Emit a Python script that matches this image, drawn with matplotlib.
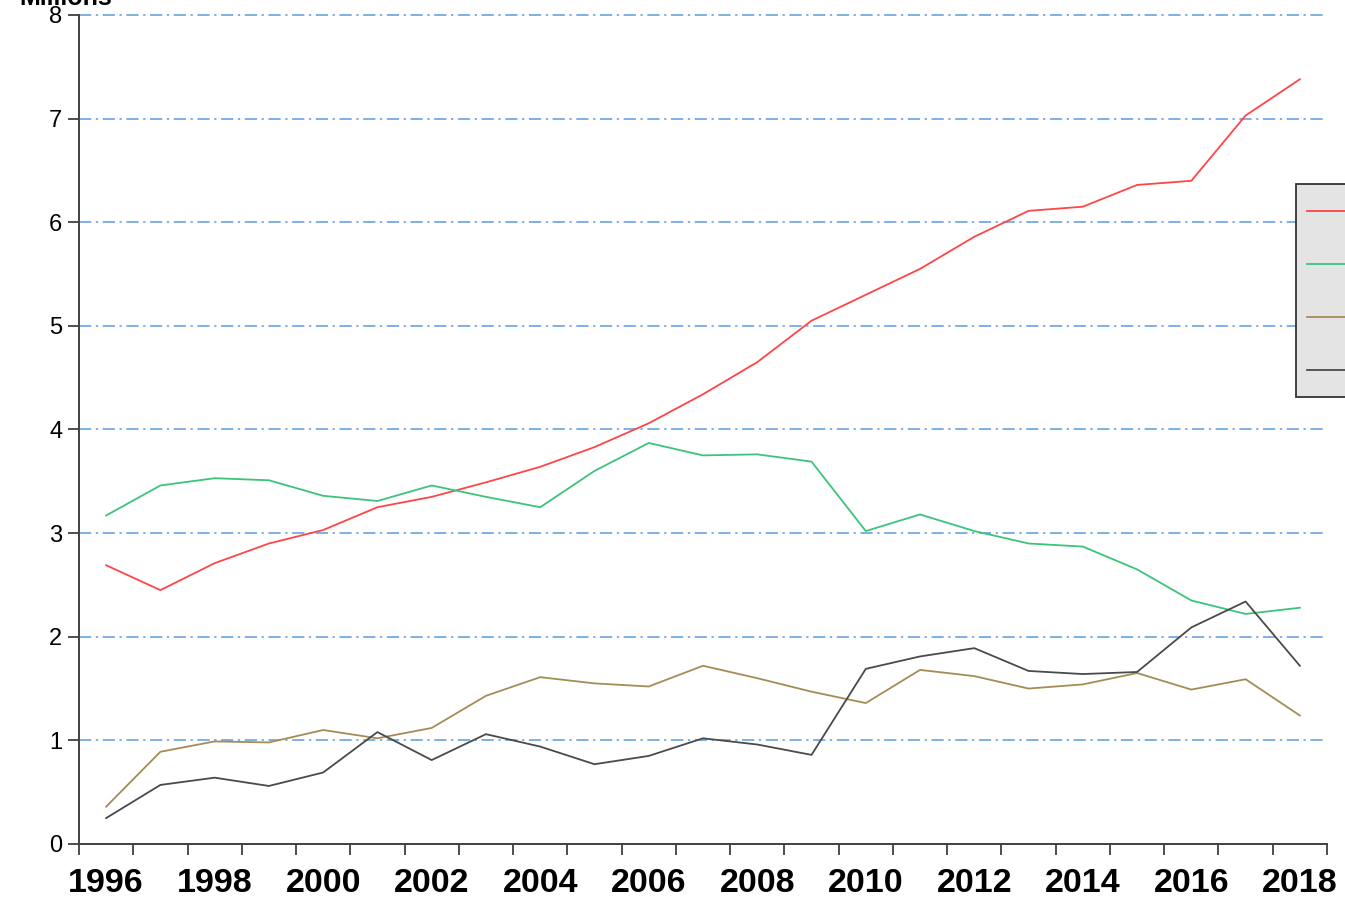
import numpy as np
import matplotlib as mpl
import matplotlib.pyplot as plt
from matplotlib.patches import Rectangle
from matplotlib.ticker import FixedLocator, NullFormatter

years = np.arange(1996, 2019)

series_red = [2.69, 2.45, 2.71, 2.90, 3.03, 3.25, 3.35, 3.49, 3.64, 3.83, 4.06, 4.34,
              4.65, 5.05, 5.30, 5.55, 5.86, 6.11, 6.15, 6.36, 6.40, 7.03, 7.38]
series_green = [3.17, 3.46, 3.53, 3.51, 3.36, 3.31, 3.46, 3.35, 3.25, 3.60, 3.87, 3.75,
                3.76, 3.69, 3.02, 3.18, 3.02, 2.90, 2.87, 2.65, 2.35, 2.22, 2.28]
series_gold = [0.36, 0.89, 0.99, 0.98, 1.10, 1.02, 1.12, 1.43, 1.61, 1.55, 1.52, 1.72,
               1.60, 1.47, 1.36, 1.68, 1.62, 1.50, 1.54, 1.65, 1.49, 1.59, 1.24]
series_grey = [0.25, 0.57, 0.64, 0.56, 0.69, 1.08, 0.81, 1.06, 0.94, 0.77, 0.85, 1.02,
               0.96, 0.86, 1.69, 1.81, 1.89, 1.67, 1.64, 1.66, 2.09, 2.34, 1.72]

series_labels = ['Series 1', 'Series 2', 'Series 3', 'Series 4']
label_years = np.arange(1996, 2019, 2)
y_ticks = np.arange(0, 9)

plt.rcParams['font.family'] = ['Liberation Sans', 'DejaVu Sans']

W, H = 1345, 898
fig = plt.figure(figsize=(W / 100, H / 100), dpi=100)
# axes box in pixels: left 79, right 1327, top 15, bottom 844
ax = fig.add_axes([79 / W, 1 - 844 / H, (1327 - 79) / W, (844 - 15) / H])

colors = ['#ff4545', '#3cc47a', '#a48d55', '#4a4a4a']
for vals, col, lab in zip([series_red, series_green, series_gold, series_grey], colors, series_labels):
    ax.plot(years, vals, color=col, linewidth=1.3, label=lab, zorder=3)

ax.set_xlim(1995.5, 2018.5)
ax.set_ylim(0, 8)

# gridlines
for yv in y_ticks[1:]:
    ax.axhline(yv, color='#5a9ae0', linewidth=1.1, linestyle=(0, (8, 3, 1.5, 3)), zorder=1, clip_on=False)

# x ticks at year boundaries, labels at even years
ax.xaxis.set_major_locator(FixedLocator(np.arange(1995.5, 2019, 1)))
ax.xaxis.set_major_formatter(NullFormatter())
ax.xaxis.set_minor_locator(FixedLocator(label_years))
ax.set_xticklabels([str(y) for y in label_years], minor=True)
ax.tick_params(axis='x', which='major', length=8, width=1.3, color='#404040', direction='out')
ax.tick_params(axis='x', which='minor', length=0, pad=17, labelsize=24.5)
for t in ax.get_xticklabels(minor=True):
    t.set_fontweight('bold')

ax.set_yticks(y_ticks)
ax.tick_params(axis='y', length=8, width=1.3, color='#404040', labelsize=17, pad=4)

for s in ['top', 'right']:
    ax.spines[s].set_visible(False)
for s in ['left', 'bottom']:
    ax.spines[s].set_color('#404040')
    ax.spines[s].set_linewidth(1.4)

fig.text(66 / W, 1 - (-2) / H, 'Millions', fontsize=18, fontweight='bold', ha='center', va='center')

# legend box (runs off the right edge of the image)
box = Rectangle((1296 / W, 1 - 397 / H), 120 / W, 213 / H, transform=fig.transFigure,
                facecolor='#e4e4e4', edgecolor='#333333', linewidth=1.3, zorder=4)
fig.add_artist(box)

handles, labels = ax.get_legend_handles_labels()
leg = fig.legend(handles, labels, loc='upper left', bbox_to_anchor=(1296 / W, 1 - 192 / H),
                 frameon=False, fontsize=10, handlelength=4.0, handleheight=2.3,
                 handletextpad=1.2, labelspacing=2.08, borderpad=0.8, borderaxespad=0)
leg.set_zorder(5)

fig.savefig('out.png', dpi=100)
